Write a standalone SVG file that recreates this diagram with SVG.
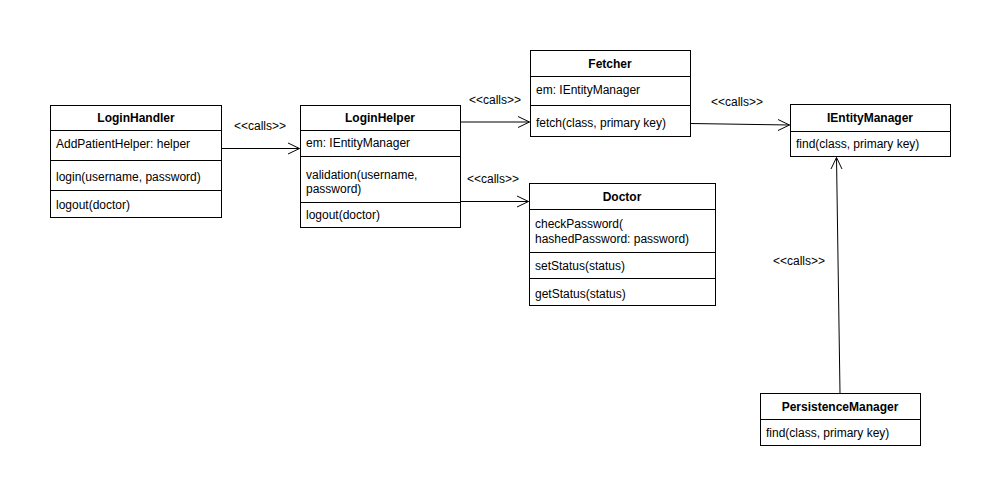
<svg xmlns="http://www.w3.org/2000/svg" width="1001" height="499" viewBox="0 0 1001 499">
<style>
.box{fill:#fff;stroke:#000;stroke-width:1}
.div{stroke:#000;stroke-width:1}
text{font-family:"Liberation Sans",Arial,Helvetica,sans-serif;font-size:12px;fill:#000}
.t{font-weight:bold;text-anchor:middle}
.lbl{font-size:12px}
.conn{stroke:#000;stroke-width:1;fill:none}
.head{stroke:#000;stroke-width:1;fill:none}
</style>
<rect width="1001" height="499" fill="#fff"/>
<g id="LoginHandler">
<rect class="box" x="50.5" y="105.5" width="171" height="112"/>
<line class="div" x1="50.5" y1="130.5" x2="221.5" y2="130.5"/>
<line class="div" x1="50.5" y1="160.5" x2="221.5" y2="160.5"/>
<line class="div" x1="50.5" y1="190.5" x2="221.5" y2="190.5"/>
<text class="t" x="136" y="122">LoginHandler</text>
<text x="56" y="148">AddPatientHelper: helper</text>
<text x="56" y="181">login(username, password)</text>
<text x="56" y="209">logout(doctor)</text>
</g>
<g id="LoginHelper">
<rect class="box" x="300.5" y="105.5" width="160" height="122"/>
<line class="div" x1="300.5" y1="130.5" x2="460.5" y2="130.5"/>
<line class="div" x1="300.5" y1="156.5" x2="460.5" y2="156.5"/>
<line class="div" x1="300.5" y1="202.5" x2="460.5" y2="202.5"/>
<text class="t" x="380" y="122">LoginHelper</text>
<text x="306" y="147">em: IEntityManager</text>
<text x="306" y="179">validation(username,</text>
<text x="306" y="193">password)</text>
<text x="306" y="219">logout(doctor)</text>
</g>
<g id="Fetcher">
<rect class="box" x="530.5" y="50.5" width="160" height="86"/>
<line class="div" x1="530.5" y1="76.5" x2="690.5" y2="76.5"/>
<line class="div" x1="530.5" y1="105.5" x2="690.5" y2="105.5"/>
<text class="t" x="610" y="68">Fetcher</text>
<text x="536" y="94">em: IEntityManager</text>
<text x="536" y="127">fetch(class, primary key)</text>
</g>
<g id="IEntityManager">
<rect class="box" x="790.5" y="104.5" width="160" height="52"/>
<line class="div" x1="790.5" y1="131.5" x2="950.5" y2="131.5"/>
<text class="t" x="870" y="122">IEntityManager</text>
<text x="796" y="148">find(class, primary key)</text>
</g>
<g id="Doctor">
<rect class="box" x="529.5" y="183.5" width="186" height="122"/>
<line class="div" x1="529.5" y1="209.5" x2="715.5" y2="209.5"/>
<line class="div" x1="529.5" y1="252.5" x2="715.5" y2="252.5"/>
<line class="div" x1="529.5" y1="278.5" x2="715.5" y2="278.5"/>
<text class="t" x="622" y="201">Doctor</text>
<text x="535" y="228">checkPassword(</text>
<text x="535" y="243">hashedPassword: password)</text>
<text x="535" y="270">setStatus(status)</text>
<text x="535" y="298">getStatus(status)</text>
</g>
<g id="PersistenceManager">
<rect class="box" x="760.5" y="393.5" width="160" height="52"/>
<line class="div" x1="760.5" y1="419.5" x2="920.5" y2="419.5"/>
<text class="t" x="840" y="411">PersistenceManager</text>
<text x="766" y="437">find(class, primary key)</text>
</g>
<g id="connectors">
<line class="conn" x1="221.5" y1="148.5" x2="299.5" y2="148.5"/>
<polyline class="head" points="288,143 299.5,148.5 288,154"/>
<text class="lbl" x="234" y="130">&lt;&lt;calls&gt;&gt;</text>
<line class="conn" x1="460.5" y1="122" x2="529.5" y2="122"/>
<polyline class="head" points="518,116.5 529.5,122 518,127.5"/>
<text class="lbl" x="469" y="104">&lt;&lt;calls&gt;&gt;</text>
<line class="conn" x1="690.5" y1="123.5" x2="789.5" y2="125"/>
<polyline class="head" points="778,119.5 789.5,125 778,130.5"/>
<text class="lbl" x="711" y="106">&lt;&lt;calls&gt;&gt;</text>
<line class="conn" x1="460.5" y1="201.5" x2="528.5" y2="201.5"/>
<polyline class="head" points="517,196 528.5,201.5 517,207"/>
<text class="lbl" x="467" y="183">&lt;&lt;calls&gt;&gt;</text>
<line class="conn" x1="840" y1="393" x2="836.5" y2="157.5"/>
<polyline class="head" points="831,169 836.5,157.5 842,169"/>
<text class="lbl" x="773" y="265">&lt;&lt;calls&gt;&gt;</text>
</g>
</svg>
